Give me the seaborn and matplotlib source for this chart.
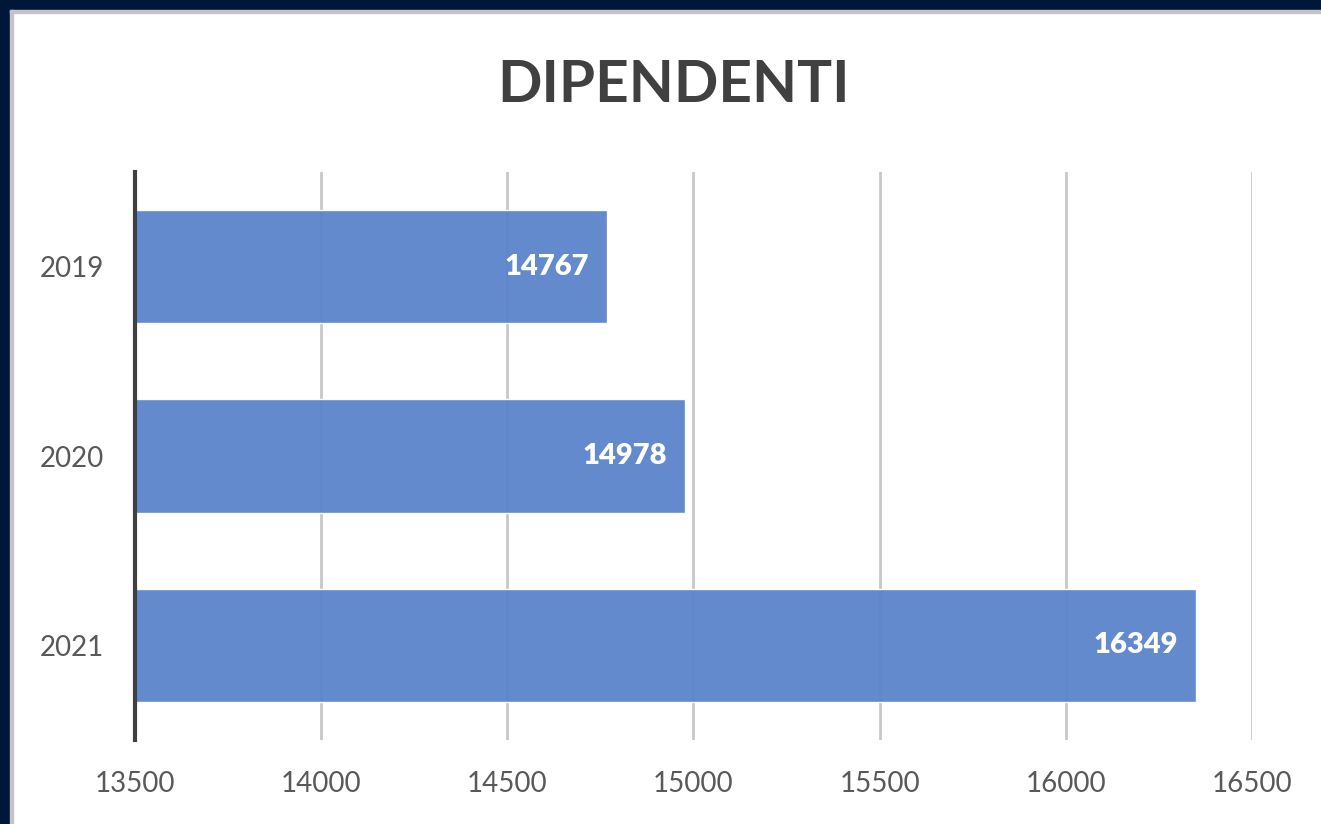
import matplotlib
matplotlib.use("Agg")
import matplotlib.pyplot as plt
import seaborn as sns
import pandas as pd
from matplotlib.patches import Rectangle

years = ["2019", "2020", "2021"]
values = [14767, 14978, 16349]
xticks = [13500, 14000, 14500, 15000, 15500, 16000, 16500]
title = "DIPENDENTI"

sns.set_theme(style="white")
plt.rcParams['font.family'] = ['Lato', 'DejaVu Sans']

df = pd.DataFrame({"anno": years, "dipendenti": values})

fig = plt.figure(figsize=(13.21, 8.24), dpi=100)
fig.patch.set_facecolor("white")
# dark frame at left and top
fig.patches.append(Rectangle((0, 0), 10/1321, 1, transform=fig.transFigure, color="#00173A", zorder=0))
fig.patches.append(Rectangle((0, 1-10/824), 1, 10/824, transform=fig.transFigure, color="#00173A", zorder=0))
fig.patches.append(Rectangle((10/1321, 0), 3/1321, 1-10/824, transform=fig.transFigure, color="#C4C4C4", zorder=0))
fig.patches.append(Rectangle((10/1321, 1-13/824), 1-10/1321, 3/824, transform=fig.transFigure, color="#C4C4C4", zorder=0))

ax = fig.add_axes([135/1321, 1-740/824, (1252-135)/1321, (740-172)/824])
ax.set_facecolor("white")
sns.barplot(data=df, y="anno", x="dipendenti", orient="h", color="#5B84CB",
            width=0.6, saturation=1, ax=ax, zorder=3, alpha=0.95)

ax.set_xlim(13500, 16500)
ax.set_ylim(2.5, -0.5)
ax.set_xticks(xticks)
ax.set_xticklabels([str(t) for t in xticks])
ax.xaxis.grid(True, color="#C8C8C8", linewidth=2, zorder=1)
ax.set_axisbelow(True)
for s in ["top", "right", "bottom"]:
    ax.spines[s].set_visible(False)
ax.spines["left"].set_color("#404040")
ax.spines["left"].set_linewidth(3)
ax.spines["left"].set_zorder(5)
ax.tick_params(axis="both", length=0, labelsize=20, labelcolor="#595959")
ax.tick_params(axis="x", pad=22)
ax.tick_params(axis="y", pad=22)
ax.set_xlabel("")
ax.set_ylabel("")

for i, v in enumerate(values):
    ax.annotate(str(v), xy=(v, i), xytext=(-13, 0), textcoords="offset points",
                ha="right", va="center", color="white", fontsize=21, fontweight="heavy", zorder=6)

fig.text(673/1321, 1-85/824, title, ha="center", va="center", fontsize=42,
         fontweight="bold", color="#404040")

fig.savefig("out.png", dpi=100)
